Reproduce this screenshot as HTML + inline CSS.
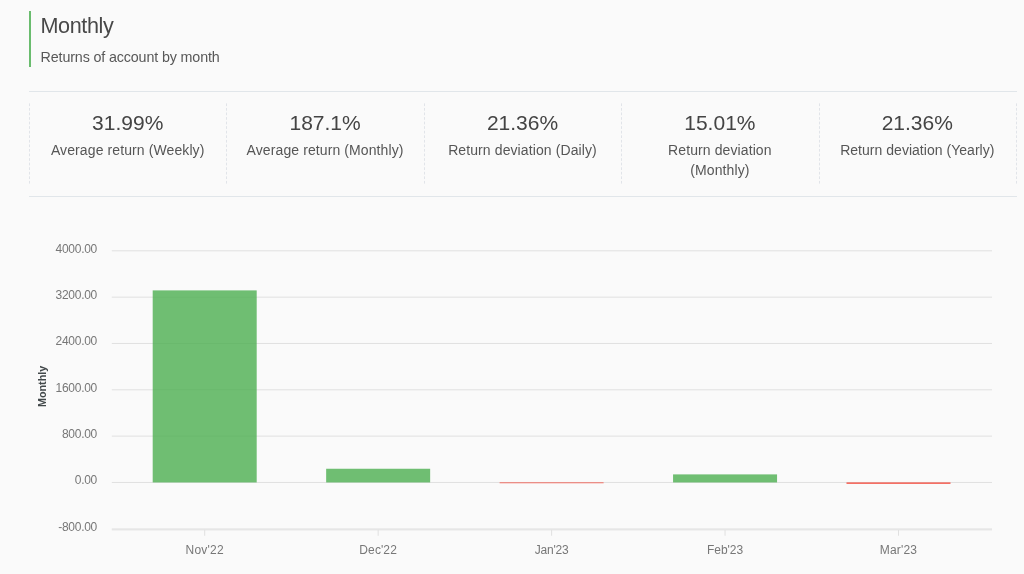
<!DOCTYPE html>
<html>
<head>
<meta charset="utf-8">
<title>Monthly</title>
<style>
html,body{margin:0;padding:0;background:#fafafa;}
body{width:1024px;height:574px;overflow:hidden;background:#fafafa;font-family:"Liberation Sans",sans-serif;color:#444;position:relative;}
#root{position:absolute;left:0;top:0;width:1024px;height:574px;will-change:transform;}
.abs{position:absolute;white-space:nowrap;}
#accent{left:29px;top:11px;width:2px;height:56px;background:#6abc6e;}
#title{left:40.4px;top:12px;font-size:21.6px;line-height:27px;color:#484848;letter-spacing:-0.38px;}
#sub{left:40.6px;top:48px;font-size:14.3px;line-height:18px;color:#585858;letter-spacing:-0.14px;}
.hr{left:29px;width:988px;height:1px;background:#e1e6ea;}
.col{position:absolute;top:103px;height:80px;width:197.4px;box-sizing:border-box;text-align:center;}
.val{position:absolute;left:0;right:0;top:7px;font-size:21px;line-height:26px;color:#444;}
.lab{position:absolute;left:0;right:0;top:37px;font-size:14px;line-height:20px;color:#565656;letter-spacing:0.1px;}
svg text{font-family:"Liberation Sans",sans-serif;}
</style>
</head>
<body>
<div id="root">
<div class="abs" id="accent"></div>
<div class="abs" id="title">Monthly</div>
<div class="abs" id="sub">Returns of account by month</div>
<div class="abs hr" style="top:91px"></div>
<div class="abs hr" style="top:196px"></div>

<div class="col" style="left:29px"><div class="val">31.99%</div><div class="lab">Average return (Weekly)</div></div>
<div class="col" style="left:226.4px"><div class="val">187.1%</div><div class="lab">Average return (Monthly)</div></div>
<div class="col" style="left:423.8px"><div class="val">21.36%</div><div class="lab">Return deviation (Daily)</div></div>
<div class="col" style="left:621.2px"><div class="val">15.01%</div><div class="lab">Return deviation<br>(Monthly)</div></div>
<div class="col" style="left:818.6px"><div class="val">21.36%</div><div class="lab" style="letter-spacing:0.03px">Return deviation (Yearly)</div></div>

<svg class="abs" style="left:0;top:0" width="1024" height="574" viewBox="0 0 1024 574">
  <g stroke="#e1e4e9" stroke-width="1" stroke-dasharray="2.7 1.86">
    <line x1="29.5" x2="29.5" y1="103.4" y2="183.6"/>
    <line x1="226.5" x2="226.5" y1="103.4" y2="183.6"/>
    <line x1="424.5" x2="424.5" y1="103.4" y2="183.6"/>
    <line x1="621.5" x2="621.5" y1="103.4" y2="183.6"/>
    <line x1="819.5" x2="819.5" y1="103.4" y2="183.6"/>
    <line x1="1016.5" x2="1016.5" y1="103.4" y2="183.6"/>
  </g>
  <g stroke="#e0e0e0" stroke-width="1">
    <line x1="111.8" x2="992" y1="250.80" y2="250.80"/>
    <line x1="111.8" x2="992" y1="297.13" y2="297.13"/>
    <line x1="111.8" x2="992" y1="343.46" y2="343.46"/>
    <line x1="111.8" x2="992" y1="389.79" y2="389.79"/>
    <line x1="111.8" x2="992" y1="436.12" y2="436.12"/>
    <line x1="111.8" x2="992" y1="482.45" y2="482.45"/>
    <line x1="111.8" x2="992" y1="528.95" y2="528.95"/>
    <line x1="111.8" x2="992" y1="529.85" y2="529.85"/>
    <line x1="204.7" x2="204.7" y1="529.76" y2="535.76"/>
    <line x1="378.15" x2="378.15" y1="529.76" y2="535.76"/>
    <line x1="551.6" x2="551.6" y1="529.76" y2="535.76"/>
    <line x1="725.05" x2="725.05" y1="529.76" y2="535.76"/>
    <line x1="898.5" x2="898.5" y1="529.76" y2="535.76"/>
  </g>
  <g fill="#4caf50" fill-opacity="0.8">
    <rect x="152.7" y="290.4" width="104" height="192.05"/>
    <rect x="326.15" y="468.75" width="104" height="13.70"/>
    <rect x="673.05" y="474.4" width="104" height="8.05"/>
  </g>
  <g fill="#f44336" fill-opacity="0.8">
    <rect x="499.6" y="482.35" width="104" height="0.9"/>
    <rect x="846.5" y="482.35" width="104" height="1.6"/>
  </g>
  <g font-size="12" fill="#777" text-anchor="end" letter-spacing="-0.28">
    <text x="97.0" y="252.80">4000.00</text>
    <text x="97.0" y="299.13">3200.00</text>
    <text x="97.0" y="345.46">2400.00</text>
    <text x="97.0" y="391.79">1600.00</text>
    <text x="97.0" y="438.12">800.00</text>
    <text x="97.0" y="484.45">0.00</text>
    <text x="97.0" y="530.78">-800.00</text>
  </g>
  <g font-size="12" fill="#777" text-anchor="middle">
    <text x="204.7" y="554.2" letter-spacing="0.2">Nov'22</text>
    <text x="378.15" y="554.2" letter-spacing="0.1">Dec'22</text>
    <text x="551.6" y="554.2" letter-spacing="-0.25">Jan'23</text>
    <text x="725.05" y="554.2" letter-spacing="-0.07">Feb'23</text>
    <text x="898.5" y="554.2" letter-spacing="0.18">Mar'23</text>
  </g>
  <text font-size="11.6" font-weight="700" fill="#42484a" text-anchor="middle" transform="translate(45.6,386.4) rotate(-90) scale(0.925,1)">Monthly</text>
</svg>
</div>
</body>
</html>
